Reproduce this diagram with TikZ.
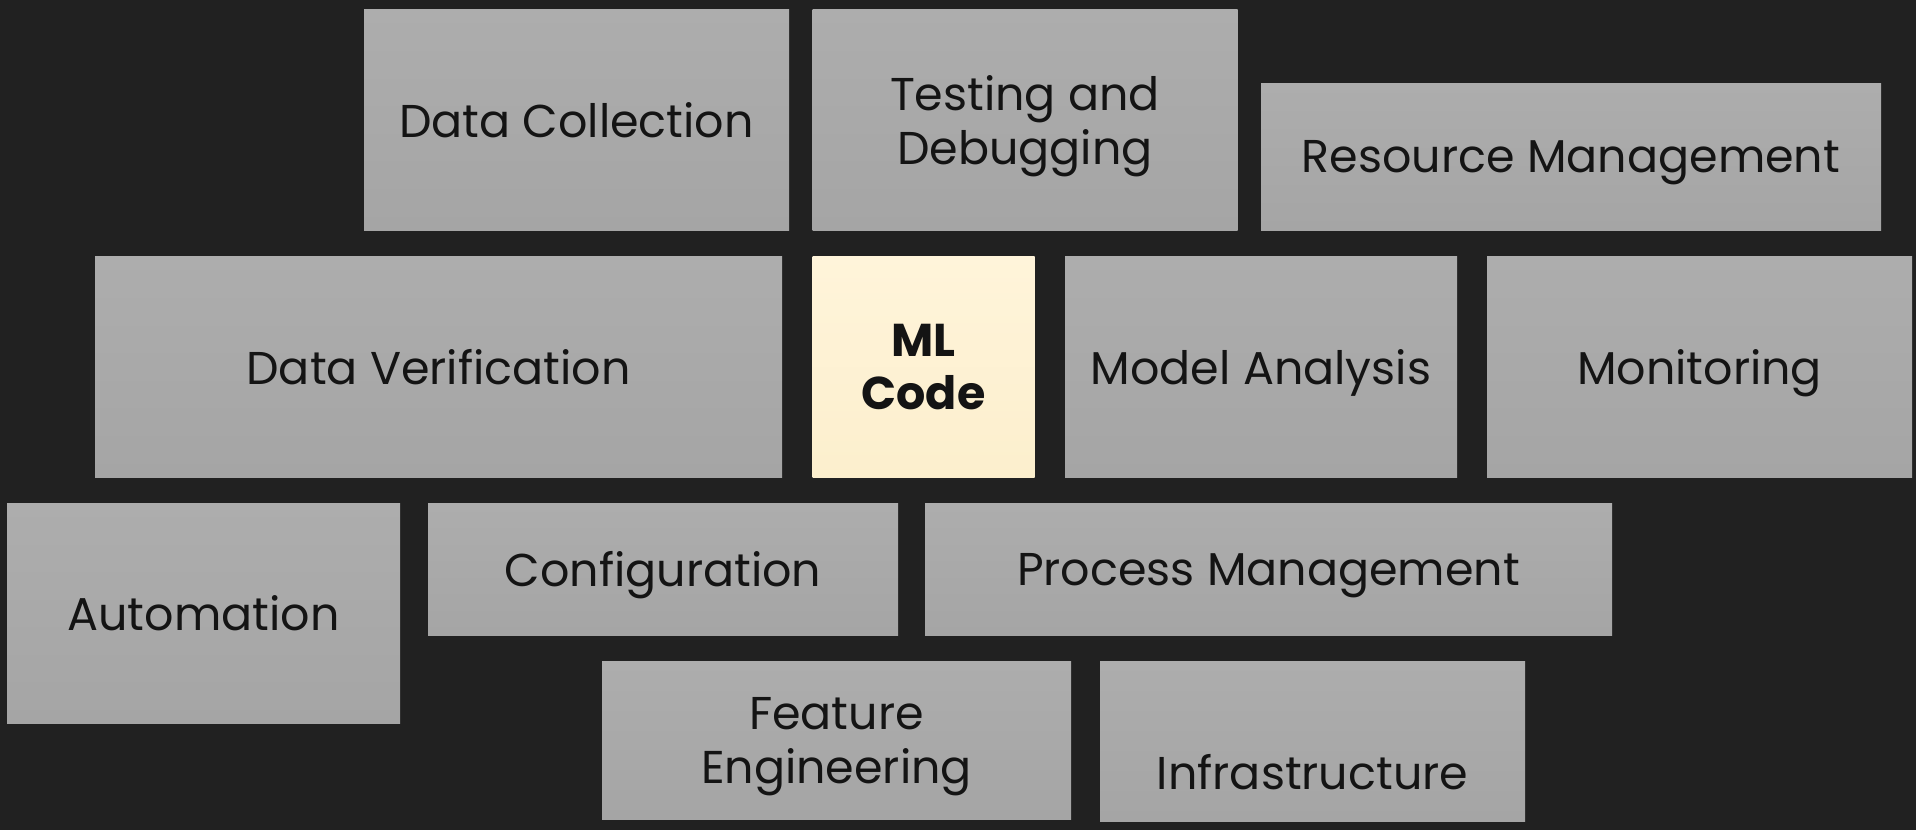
\documentclass[tikz,border=0pt]{standalone}
\usepackage{fontspec}
\setmainfont{Poppins}
\definecolor{bg}{HTML}{212121}
\definecolor{tiletop}{HTML}{ADADAD}
\definecolor{tilebot}{HTML}{A5A5A5}
\definecolor{coretop}{HTML}{FFF4DA}
\definecolor{corebot}{HTML}{FCEFCD}
\definecolor{tiletext}{HTML}{141414}

\begin{document}
\begin{tikzpicture}[x=1pt, y=-1pt,
    tile/.style={top color=tiletop, bottom color=tilebot, inner sep=0pt, align=center,
        text=tiletext, text depth=0pt, font=\fontsize{46}{54}\selectfont},
    core/.style={tile, top color=coretop, bottom color=corebot, font=\fontsize{46}{53}\selectfont\bfseries}]
    \fill[bg] (0, 0) rectangle (1916, 830);

    % top row
    \node[tile, minimum width=425pt, minimum height=221pt] (dcoll) at (576.5, 119.5) {Data Collection};
    \node[tile, minimum width=425pt, minimum height=221pt] (testing) at (1025, 119.5) {Testing and\\Debugging};
    \node[tile, minimum width=620pt, minimum height=147pt] (resource) at (1571, 156.5) {Resource Management};

    % middle row
    \node[tile, minimum width=687pt, minimum height=221pt] (dverif) at (438.5, 366.5) {Data Verification};
    \node[core, minimum width=222pt, minimum height=221pt] (mlcode) at (923.5, 366.5) {ML\\Code};
    \node[tile, minimum width=392pt, minimum height=221pt] (model) at (1261, 366.5) {Model Analysis};
    \node[tile, minimum width=425pt, minimum height=221pt] (monitor) at (1699.5, 366.5) {Monitoring};

    % lower rows
    \node[tile, minimum width=393pt, minimum height=220pt] (autom) at (203.5, 613) {Automation};
    \node[tile, minimum width=470pt, minimum height=132pt] (config) at (663, 569) {Configuration};
    \node[tile, minimum width=687pt, minimum height=132pt] (process) at (1268.5, 569) {Process Management};
    \node[tile, minimum width=469pt, minimum height=158pt] (feature) at (836.5, 740) {Feature\\Engineering};
    \node[tile, minimum width=425pt, minimum height=160pt] (infra) at (1312.5, 741) {};
    \node[text=tiletext, text depth=0pt, font=\fontsize{46}{54}\selectfont] (infratext) at ([yshift=-31pt]infra.center) {Infrastructure};
\end{tikzpicture}
\end{document}
